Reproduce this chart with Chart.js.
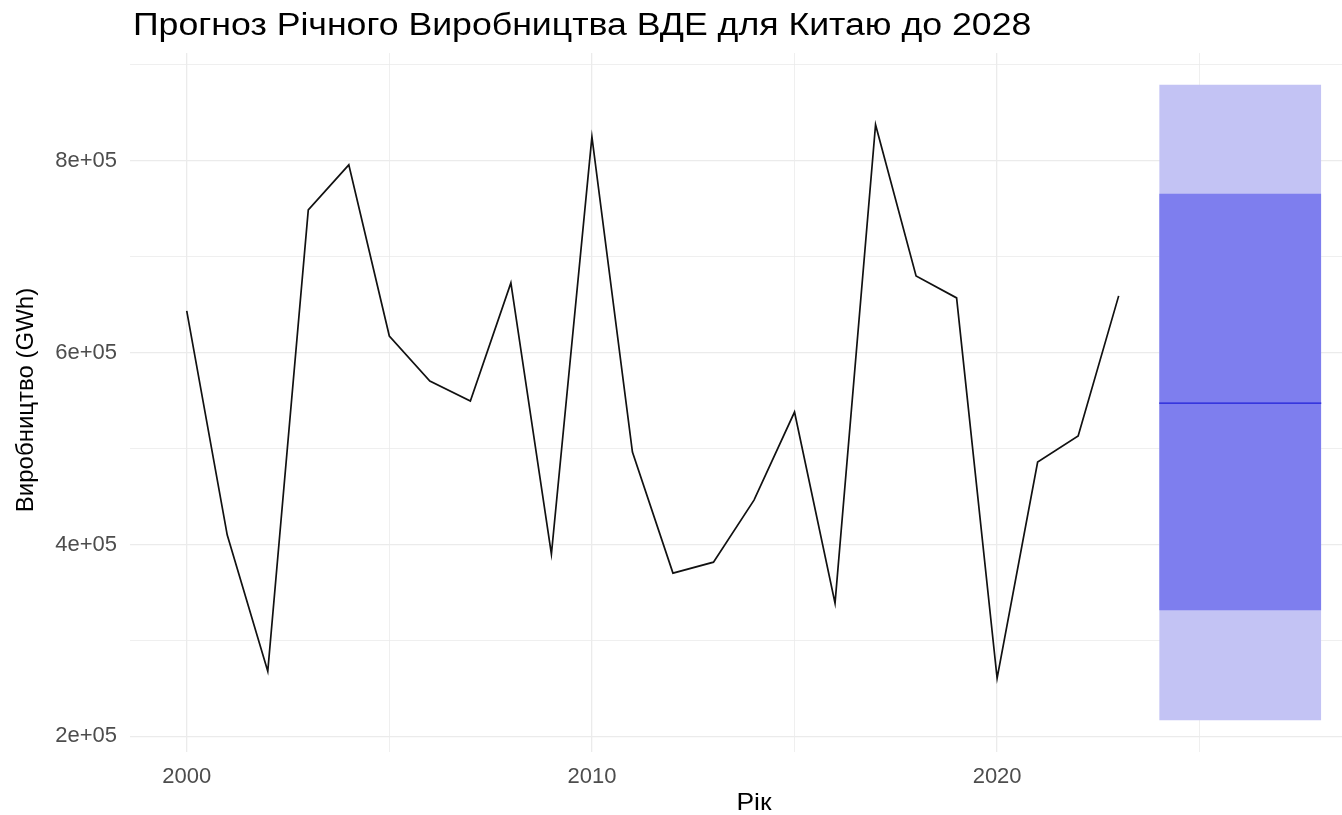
<!DOCTYPE html>
<html>
<head>
<meta charset="utf-8">
<script src="https://cdn.jsdelivr.net/npm/chart.js@4.4.1/dist/chart.umd.min.js"></script>
<style>
  html, body { margin: 0; padding: 0; background: #ffffff; overflow: hidden; }
  #wrap { position: relative; width: 1378px; height: 815px; }
</style>
</head>
<body>
<div id="wrap"><canvas id="c"></canvas></div>
<script>
// ---- data ----
const years = [2000,2001,2002,2003,2004,2005,2006,2007,2008,2009,2010,2011,2012,2013,2014,2015,2016,2017,2018,2019,2020,2021,2022,2023];
const production = [643500,409800,267900,748900,795800,617400,570500,549600,672700,390000,825000,496400,370200,381600,446300,538100,338900,837600,680000,657100,260600,486000,513100,659200];
const forecastYears = [2024, 2028];
const forecastMean = [547500, 547500];
const lower80 = [331600, 331600];
const upper80 = [765600, 765600];
const lower95 = [216800, 216800];
const upper95 = [879300, 879300];
const xTicks = [2000, 2005, 2010, 2015, 2020, 2025];
const xTickLabels = ['2000', '', '2010', '', '2020', ''];
const yTicks = [200000, 300000, 400000, 500000, 600000, 700000, 800000, 900000];
const yTickLabels = ['2e+05', '', '4e+05', '', '6e+05', '', '8e+05', ''];
const titleText = 'Прогноз Річного Виробництва ВДЕ для Китаю до 2028';
const xTitle = 'Рік';
const yTitle = 'Виробництво (GWh)';

const pts = (xs, ys) => xs.map((x, i) => ({ x: x, y: ys[i] }));
const FONT = "'Liberation Sans', Arial, sans-serif";

const textPlugin = {
  id: 'texts',
  afterDraw(chart) {
    const ctx = chart.ctx;
    const a = chart.chartArea;
    // title
    ctx.save();
    ctx.fillStyle = '#000000';
    ctx.font = '31px ' + FONT;
    ctx.textAlign = 'left';
    ctx.textBaseline = 'alphabetic';
    ctx.translate(133, 35);
    ctx.scale(1.15, 1);
    ctx.fillText(titleText, 0, 0);
    ctx.restore();
    // x title
    ctx.save();
    ctx.fillStyle = '#000000';
    ctx.font = '24px ' + FONT;
    ctx.textAlign = 'center';
    ctx.textBaseline = 'alphabetic';
    ctx.translate((a.left + a.right) / 2, 810);
    ctx.scale(1.1, 1);
    ctx.fillText(xTitle, 0, 0);
    ctx.restore();
    // y title
    ctx.save();
    ctx.fillStyle = '#000000';
    ctx.font = '24px ' + FONT;
    ctx.textAlign = 'center';
    ctx.textBaseline = 'alphabetic';
    ctx.translate(33, 400);
    ctx.rotate(-Math.PI / 2);
    ctx.fillText(yTitle, 0, 0);
    ctx.restore();
  }
};

new Chart(document.getElementById('c'), {
  type: 'line',
  data: {
    datasets: [
      { label: 'hist', data: pts(years, production), borderColor: '#111111', borderWidth: 1.7, pointRadius: 0, fill: false, order: 1, tension: 0 },
      { label: 'lo95', data: pts(forecastYears, lower95), borderWidth: 0, borderColor: 'rgba(0,0,0,0)', pointRadius: 0, fill: false, order: 6 },
      { label: 'hi95', data: pts(forecastYears, upper95), borderWidth: 0, borderColor: 'rgba(0,0,0,0)', pointRadius: 0, fill: 1, backgroundColor: '#C3C3F4', order: 5 },
      { label: 'lo80', data: pts(forecastYears, lower80), borderWidth: 0, borderColor: 'rgba(0,0,0,0)', pointRadius: 0, fill: false, order: 6 },
      { label: 'hi80', data: pts(forecastYears, upper80), borderWidth: 0, borderColor: 'rgba(0,0,0,0)', pointRadius: 0, fill: 3, backgroundColor: '#7E7EEE', order: 4 },
      { label: 'mean', data: pts(forecastYears, forecastMean), borderColor: '#1F1FD8', borderWidth: 1.2, pointRadius: 0, fill: false, order: 2 }
    ]
  },
  options: {
    responsive: true,
    maintainAspectRatio: false,
    animation: false,
    events: [],
    layout: { padding: { top: 53, right: 0, left: 0, bottom: 0 } },
    plugins: { legend: { display: false }, tooltip: { enabled: false }, title: { display: false } },
    scales: {
      x: {
        type: 'linear',
        min: 1998.6,
        max: 2029.4,
        afterBuildTicks: (s) => { s.ticks = xTicks.map(v => ({ value: v })); },
        afterFit: (s) => { s.height = 63; },
        border: { display: false },
        grid: { color: '#EBEBEB', lineWidth: (c) => (c.tick && c.tick.value % 10 === 0 ? 1.3 : 0.8), drawTicks: false },
        ticks: {
          autoSkip: false, maxRotation: 0, padding: 12,
          color: '#4D4D4D', font: { family: FONT, size: 22 },
          callback: (v) => { const i = xTicks.indexOf(v); return i >= 0 ? xTickLabels[i] : ''; }
        }
      },
      y: {
        type: 'linear',
        min: 183700,
        max: 912400,
        afterBuildTicks: (s) => { s.ticks = yTicks.map(v => ({ value: v })); },
        afterFit: (s) => { s.width = 130; },
        border: { display: false },
        grid: { color: '#EBEBEB', lineWidth: (c) => (c.tick && c.tick.value % 200000 === 0 ? 1.3 : 0.8), drawTicks: false },
        ticks: {
          autoSkip: false, padding: 13,
          color: '#4D4D4D', font: { family: FONT, size: 22 },
          callback: (v) => { const i = yTicks.indexOf(v); return i >= 0 ? yTickLabels[i] : ''; }
        }
      }
    }
  },
  plugins: [textPlugin]
});
</script>
</body>
</html>
